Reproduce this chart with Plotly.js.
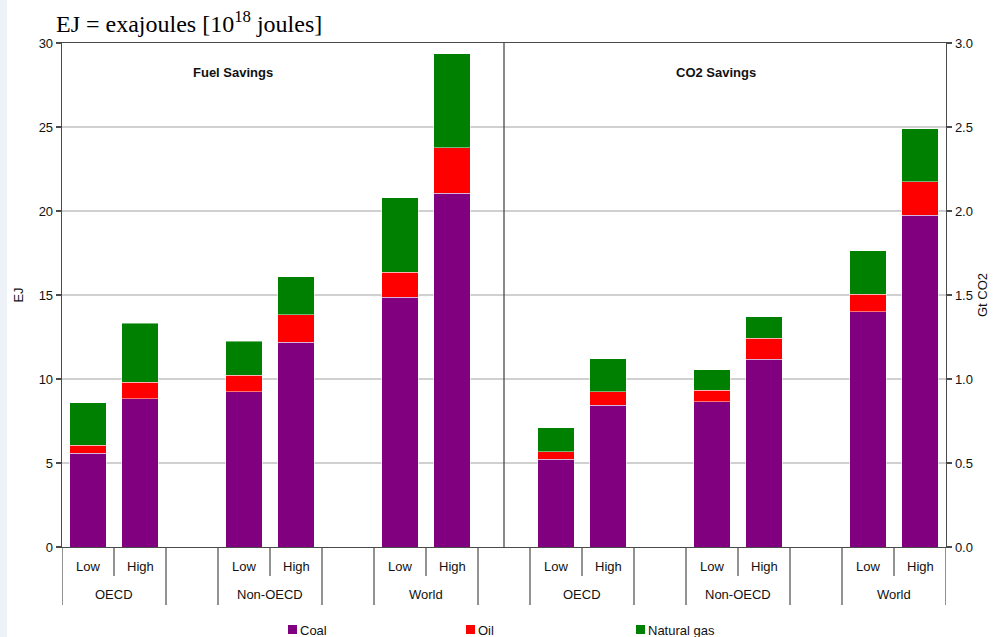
<!DOCTYPE html>
<html>
<head>
<meta charset="utf-8">
<script src="https://cdn.plot.ly/plotly-3.0.1.min.js"></script>
<style>
  html, body { margin: 0; padding: 0; background: #ffffff; }
  #chart { width: 1003px; height: 637px; }
</style>
</head>
<body>
<div id="chart"></div>
<script>
// Savings by region and scenario, split by fuel
const panels = ['Fuel Savings', 'CO2 Savings'];
const regions = ['OECD', 'Non-OECD', 'World'];
const scenarios = ['Low', 'High'];
const fuels = ['Coal', 'Oil', 'Natural gas'];
const fuelColors = ['#800080', '#ff0000', '#008000'];

// Fuel savings, EJ (order: OECD Low, OECD High, Non-OECD Low, Non-OECD High, World Low, World High)
const fuelCoal = [5.58, 8.83, 9.24, 12.18, 14.86, 21.05];
const fuelOil  = [0.47, 0.99, 0.98, 1.63, 1.49, 2.72];
const fuelGas  = [2.54, 3.49, 2.04, 2.28, 4.45, 5.59];

// CO2 savings, Gt CO2 (same order)
const co2Coal = [0.522, 0.843, 0.865, 1.119, 1.399, 1.976];
const co2Oil  = [0.045, 0.081, 0.068, 0.123, 0.105, 0.198];
const co2Gas  = [0.143, 0.197, 0.121, 0.129, 0.260, 0.316];

const panelSeries = [
  [fuelCoal, fuelOil, fuelGas],
  [co2Coal, co2Oil, co2Gas]
];

// Plot geometry (pixels)
const W = 1003, H = 637;
const M = { l: 62, r: 57, t: 43, b: 90 };
const PW = W - M.l - M.r, PH = H - M.t - M.b;
const px2x = p => (p - M.l) / PW;
const py2y = p => (H - M.b - p) / PH;

// Each panel has 3 regions x (2 scenarios + 1 spacer slot)
const SLOTS_PER_PANEL = regions.length * (scenarios.length + 1);
const slotOf = (p, r, s) => p * SLOTS_PER_PANEL + r * (scenarios.length + 1) + s;

const FONT = 'Liberation Sans, Arial, sans-serif';
const TXT = '#111111';
const AX = '#4a4a4a';

const traces = [];
panels.forEach((panel, p) => {
  fuels.forEach((fuel, f) => {
    const xs = [], ys = [];
    regions.forEach((reg, r) => {
      scenarios.forEach((sc, s) => {
        xs.push(slotOf(p, r, s));
        ys.push(panelSeries[p][f][r * scenarios.length + s]);
      });
    });
    traces.push({
      type: 'bar',
      name: fuel,
      x: xs,
      y: ys,
      width: 0.71,
      yaxis: p === 0 ? 'y' : 'y2',
      marker: { color: fuelColors[f], line: { color: 'rgba(255,255,255,0.45)', width: 1 } },
      showlegend: false,
      hoverinfo: 'x+y+name'
    });
  });
});

const shapes = [];
const annotations = [];

// light slide strip on the left edge
shapes.push({
  type: 'rect', xref: 'paper', yref: 'paper', layer: 'below',
  x0: px2x(0), x1: px2x(7), y0: py2y(H), y1: py2y(0),
  fillcolor: '#edf1f8', line: { width: 0 }
});

// divider between the two panels
const dividerX = SLOTS_PER_PANEL - 1;
shapes.push({
  type: 'line', xref: 'x', yref: 'paper', x0: dividerX, x1: dividerX, y0: 0, y1: 1,
  line: { color: AX, width: 1.3 }
});

// category axis: scenario and region separators below the plot
const shortY = py2y(576), longY = py2y(605);
panels.forEach((panel, p) => {
  regions.forEach((reg, r) => {
    const first = slotOf(p, r, 0);
    const last = slotOf(p, r, scenarios.length - 1);
    [first - 0.5, last + 0.5].forEach(xb => shapes.push({
      type: 'line', xref: 'x', yref: 'paper', x0: xb, x1: xb, y0: 0, y1: longY,
      line: { color: AX, width: 1.2 }
    }));
    for (let s = 1; s < scenarios.length; s++) {
      const xb = slotOf(p, r, s) - 0.5;
      shapes.push({
        type: 'line', xref: 'x', yref: 'paper', x0: xb, x1: xb, y0: 0, y1: shortY,
        line: { color: AX, width: 1.2 }
      });
    }
    scenarios.forEach((sc, s) => annotations.push({
      xref: 'x', yref: 'paper', x: slotOf(p, r, s), y: py2y(566),
      text: sc, showarrow: false, xanchor: 'center', yanchor: 'middle',
      font: { family: FONT, size: 13, color: TXT }
    }));
    annotations.push({
      xref: 'x', yref: 'paper', x: (first + last) / 2, y: py2y(594),
      text: reg, showarrow: false, xanchor: 'center', yanchor: 'middle',
      font: { family: FONT, size: 13, color: TXT }
    });
  });
});

// panel headings
const panelTitleX = [px2x(233), px2x(716)];
panels.forEach((panel, p) => annotations.push({
  xref: 'paper', yref: 'paper', x: panelTitleX[p], y: py2y(72),
  text: '<b>' + panel + '</b>', showarrow: false, xanchor: 'center', yanchor: 'middle',
  font: { family: FONT, size: 13, color: TXT }
}));

// unit note above the chart
annotations.push({
  xref: 'paper', yref: 'paper', x: px2x(54), y: py2y(22),
  text: 'EJ = exajoules [10<sup>18</sup> joules]', showarrow: false,
  xanchor: 'left', yanchor: 'middle',
  font: { family: 'Liberation Serif, Times New Roman, serif', size: 24, color: '#000' }
});

// fuel key along the bottom
const keyX = [288, 466, 636];
fuels.forEach((fuel, f) => {
  shapes.push({
    type: 'rect', xref: 'paper', yref: 'paper',
    x0: px2x(keyX[f]), x1: px2x(keyX[f] + 9), y0: py2y(634), y1: py2y(625),
    fillcolor: fuelColors[f], line: { width: 0 }
  });
  annotations.push({
    xref: 'paper', yref: 'paper', x: px2x(keyX[f] + 10), y: py2y(630),
    text: fuel, showarrow: false, xanchor: 'left', yanchor: 'middle',
    font: { family: FONT, size: 13, color: TXT }
  });
});

const layout = {
  width: W, height: H,
  margin: M,
  paper_bgcolor: '#ffffff',
  plot_bgcolor: '#ffffff',
  barmode: 'stack',
  showlegend: false,
  xaxis: {
    range: [-0.5, 2 * SLOTS_PER_PANEL - 1.5],
    showticklabels: false, ticks: '', showgrid: false, zeroline: false,
    showline: true, mirror: true, linecolor: AX, linewidth: 1.3,
    fixedrange: true
  },
  yaxis: {
    range: [0, 30], dtick: 5, tick0: 0,
    showgrid: true, gridcolor: '#d0d0d0', gridwidth: 1.3,
    zeroline: false,
    showline: true, linecolor: AX, linewidth: 1.3,
    ticks: 'outside', ticklen: 5, tickcolor: AX, tickwidth: 1.2,
    tickfont: { family: FONT, size: 13, color: TXT },
    title: { text: 'EJ', standoff: 12, font: { family: FONT, size: 13, color: TXT } }
  },
  yaxis2: {
    overlaying: 'y', side: 'right',
    range: [0, 3], dtick: 0.5, tick0: 0, tickformat: '.1f',
    showgrid: false, zeroline: false,
    showline: true, linecolor: AX, linewidth: 1.3,
    ticks: 'outside', ticklen: 5, tickcolor: AX, tickwidth: 1.2,
    tickfont: { family: FONT, size: 13, color: TXT },
    title: { text: 'Gt CO2', standoff: 6, font: { family: FONT, size: 13, color: TXT } }
  },
  shapes: shapes,
  annotations: annotations
};

Plotly.newPlot('chart', traces, layout, { displayModeBar: false, staticPlot: true });
</script>
</body>
</html>
